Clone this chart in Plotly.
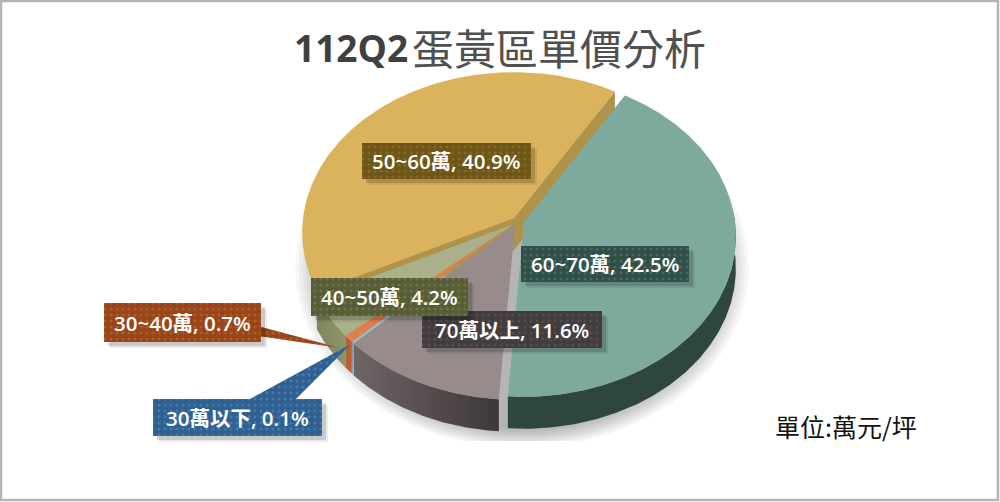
import numpy as np
import plotly.graph_objects as go

TITLE_NUM = "112Q2"
TITLE_CJK = "蛋黃區單價分析"
UNIT = "單位:萬元/坪"
categories = ["60~70萬", "70萬以上", "30萬以下", "30~40萬", "40~50萬", "50~60萬"]
values = [42.5, 11.6, 0.1, 0.7, 4.2, 40.9]

# ---- drawing styles (per category, same order)
centers = [(524, 222), (515, 225), (514, 224), (514, 224), (514, 224), (514, 218)]
tops = ["#7EA99D", "#978B8C", "#6FA0C8", "#E07F47", "#A9B08A", "#DAB35C"]
walls = [("#2F4640", "#2F4640"), ("#6E6566", "#3E3737"), ("#5F88A8", "#5F88A8"),
         ("#B8612F", "#B8612F"), ("#7F8760", "#8C9468"), ("#B0934A", "#B0934A")]
boxes = [(521, 246, 689, 282), (422, 311, 602, 348), (153, 399, 322, 436),
         (104, 303, 261, 342), (311, 278, 468, 316), (362, 143, 531, 179)]
box_bg = ["#2F4F48", "#423C3E", "#2F6090", "#97451A", "#565C35", "#6E5518"]
box_dot = ["#5B8277", "#625C5E", "#5A90C4", "#CC7232", "#838A5A", "#957A32"]
START = 31.0
DEPTH = 32
A, G, P = 211.0, 159.0, 0.0902


def project(theta_deg, c):
    t = np.radians(theta_deg)
    den = 1 + P * np.cos(t)
    return c[0] + A * np.sin(t) / den, c[1] - G * np.cos(t) / den


fig = go.Figure()


def poly(x, y, color, line=None, **kw):
    fig.add_trace(go.Scatter(x=list(x), y=list(y), mode="lines", fill="toself",
                             fillcolor=color, line=dict(width=0.6 if line else 0, color=line or color),
                             hoverinfo="skip", showlegend=False, **kw))


# soft shadow behind the pie
tt = np.linspace(0, 2 * np.pi, 180)
for k in range(9):
    rx, ry = 198 + k * 3.6, 162 + k * 2.2
    poly(522 + rx * np.cos(tt), np.minimum(268 + ry * np.sin(tt), 441), "rgba(0,0,0,0.035)")

# slice boundaries follow the values
total = sum(values)
bounds = [START]
for v in values:
    bounds.append(bounds[-1] + v / total * 360)

# draw back to front: yellow first, teal last
for i in [5, 4, 3, 2, 1, 0]:
    a, b = bounds[i], bounds[i + 1]
    c = centers[i]
    th = np.linspace(a, b, max(8, int((b - a) * 2)))
    rx_, ry_ = project(th, c)
    # cut faces of the exploded yellow slice
    if i == 5:
        for edge in (a, b):
            ex, ey = project(edge, c)
            poly([c[0], ex, ex, c[0]], [c[1], ey, ey + DEPTH, c[1] + DEPTH], walls[i][0])
    # rim wall on the visible front part
    lo, hi = max(a, 85), min(b, 275)
    if hi > lo and i != 5:
        tw = np.linspace(lo, hi, max(6, int((hi - lo) * 2)))
        wx, wy = project(tw, c)
        fx = np.r_[wx, wx[::-1]]
        fy = np.r_[wy, wy[::-1] + DEPTH]
        grad = dict(type="horizontal", colorscale=[[0, walls[i][0]], [1, walls[i][1]]])
        if walls[i][0] != walls[i][1]:
            fig.add_trace(go.Scatter(x=list(fx), y=list(fy), mode="lines", fill="toself",
                                     fillgradient=grad, line=dict(width=0),
                                     hoverinfo="skip", showlegend=False))
        else:
            poly(fx, fy, walls[i][0])
    poly(np.r_[c[0], rx_, c[0]], np.r_[c[1], ry_, c[1]], tops[i])

# callout wedges
pat = lambda i: dict(shape=".", bgcolor=box_bg[i], fgcolor=box_dot[i], size=6, solidity=0.22)
poly([258, 258, 340], [326, 336, 348], box_bg[3], fillpattern=pat(3))
poly([250, 296, 351], [399, 399, 344], box_bg[2], fillpattern=pat(2))

annotations = []
for i, (x0, y0, x1, y1) in enumerate(boxes):
    # box shadow
    for s, al in ((6, 0.08), (4, 0.14)):
        poly([x0 + s, x1 + s, x1 + s, x0 + s], [y0 + s, y0 + s, y1 + s, y1 + s], f"rgba(0,0,0,{al})")
    poly([x0, x1, x1, x0], [y0, y0, y1, y1], box_bg[i], fillpattern=pat(i))
    annotations.append(dict(
        x=(x0 + x1) / 2, y=(y0 + y1) / 2, xref="x", yref="y", showarrow=False,
        text=f"{categories[i]}, {values[i]}%",
        font=dict(family="Open Sans, Noto Sans CJK TC", size=20.5, color="white", weight=600)))

annotations.append(dict(x=410, y=47, xref="x", yref="y", showarrow=False, xanchor="right",
                        text=f"<b>{TITLE_NUM}</b>",
                        font=dict(family="Open Sans", size=37, color="#404040")))
annotations.append(dict(x=410, y=46, xref="x", yref="y", showarrow=False, xanchor="left",
                        text=TITLE_CJK,
                        font=dict(family="Noto Sans CJK TC", size=42, color="#505050")))
annotations.append(dict(x=846, y=426, xref="x", yref="y", showarrow=False, text=UNIT,
                        font=dict(family="Noto Sans CJK TC", size=25, color="#111111")))

fig.update_layout(
    width=1000, height=502, margin=dict(l=0, r=0, t=0, b=0),
    paper_bgcolor="white", plot_bgcolor="white", showlegend=False,
    xaxis=dict(range=[0, 1000], visible=False, fixedrange=True),
    yaxis=dict(range=[502, 0], visible=False, fixedrange=True),
    annotations=annotations,
    shapes=[dict(type="rect", xref="x", yref="y", x0=1, y0=1, x1=998, y1=500,
                 line=dict(color="#B4B4B4", width=2.5), layer="above")],
)
fig.write_html("out.html", config=dict(displayModeBar=False),
               post_script="document.body.style.margin='0';")
